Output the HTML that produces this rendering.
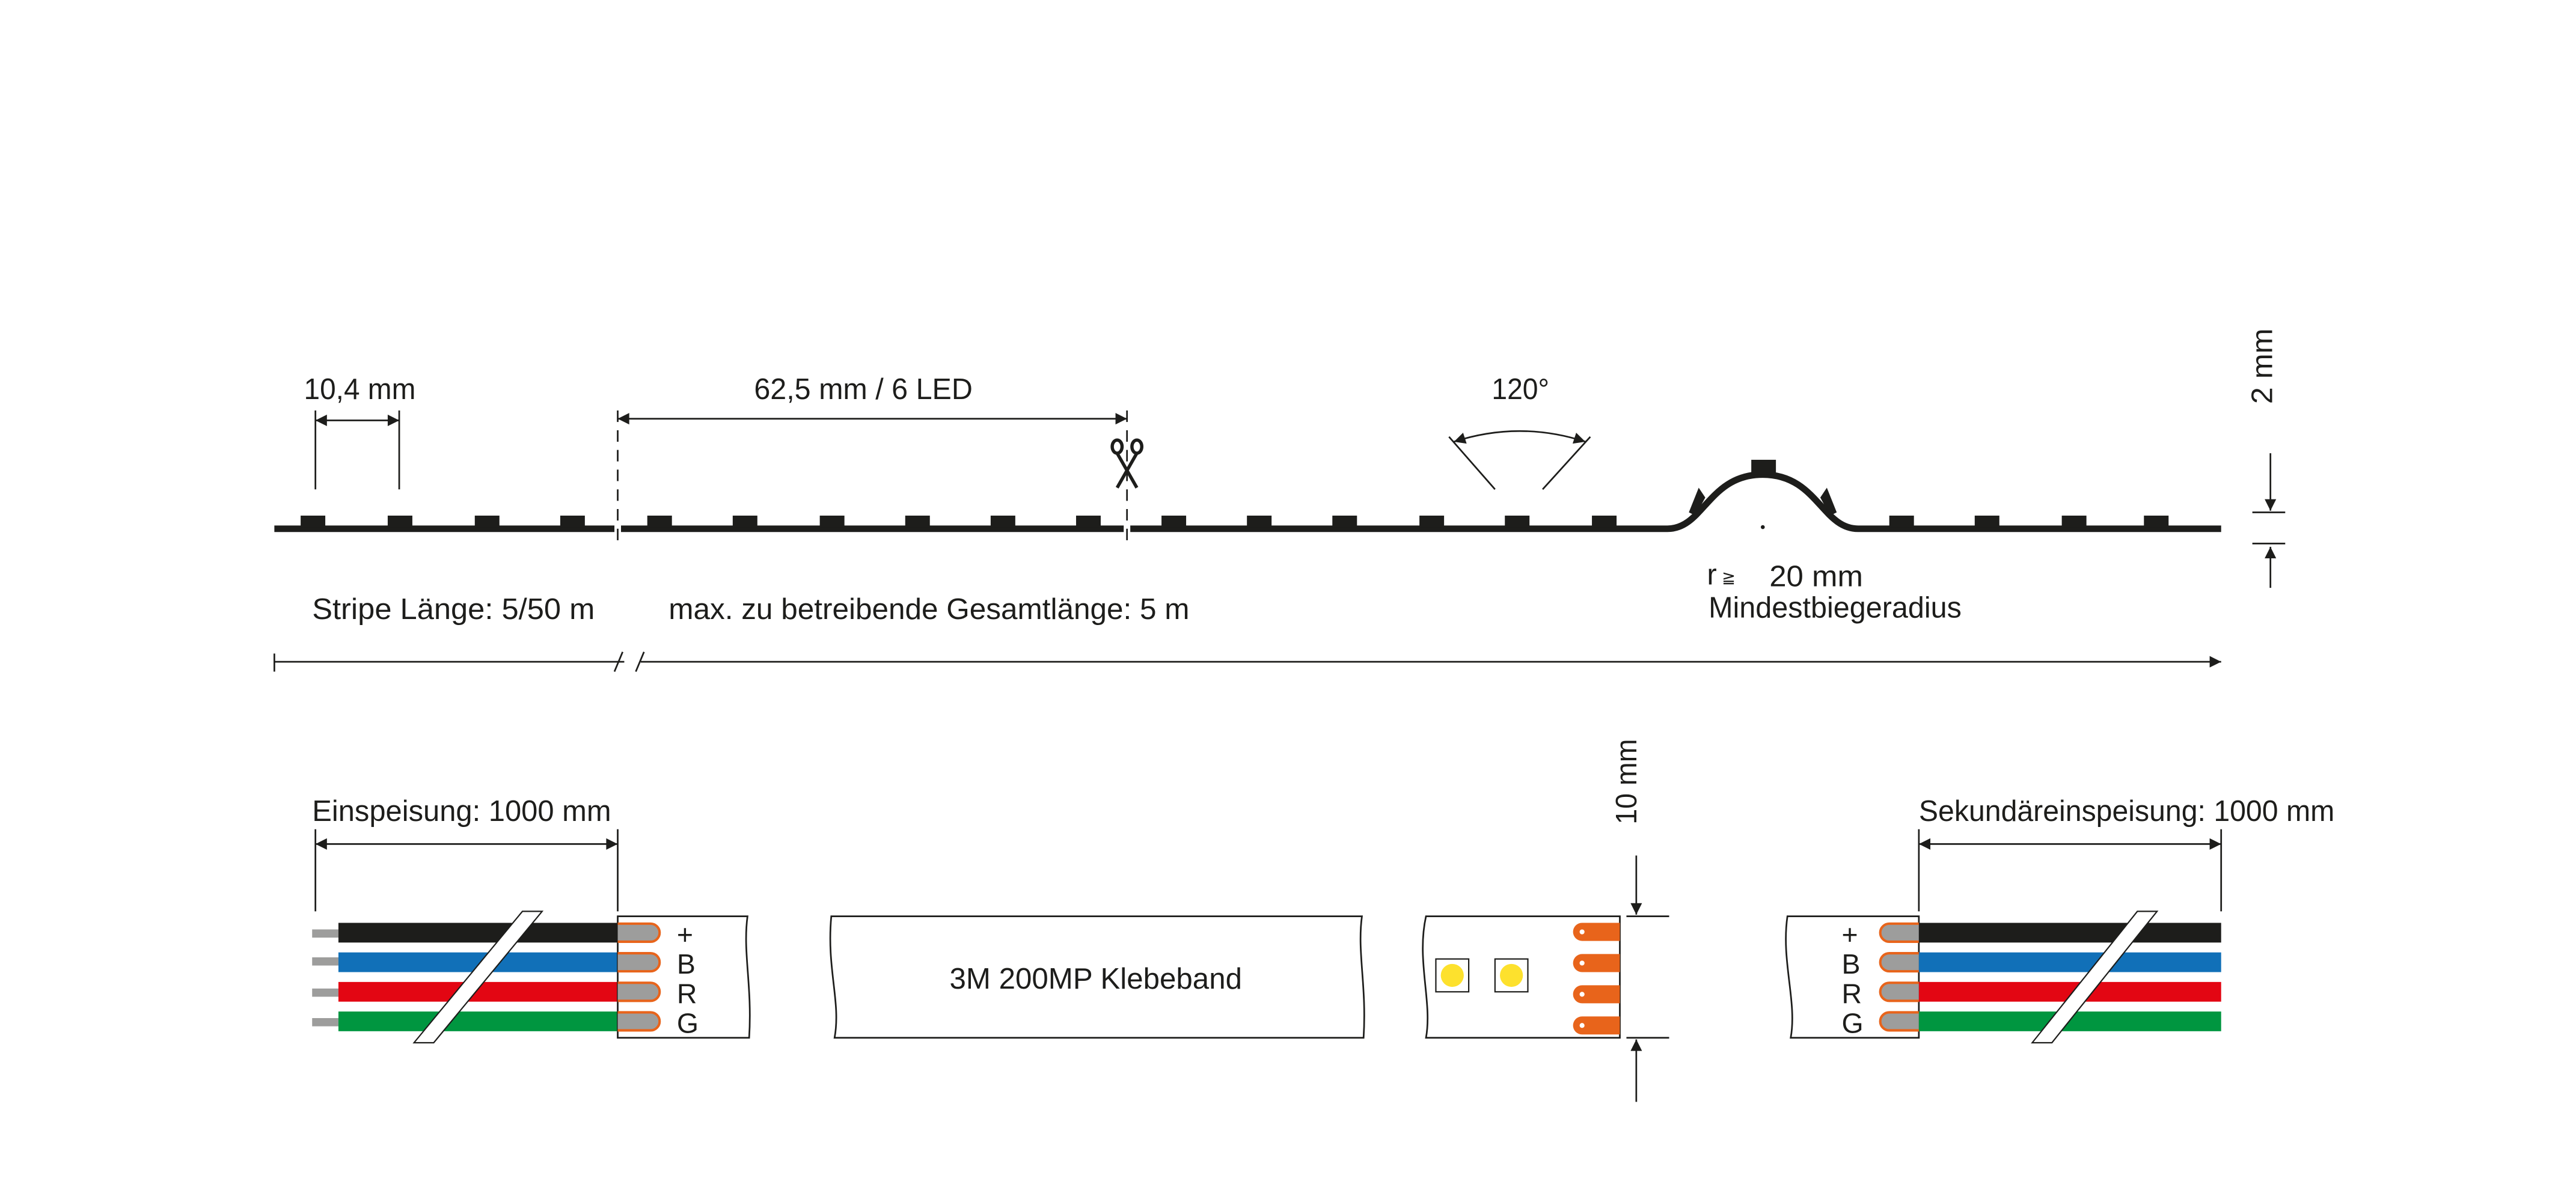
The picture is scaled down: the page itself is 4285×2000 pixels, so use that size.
<!DOCTYPE html>
<html><head><meta charset="utf-8"><style>
html,body{margin:0;padding:0;background:#fff;}
svg{display:block;}
text{font-family:"Liberation Sans Narrow","Liberation Sans",sans-serif;fill:#1d1d1b;}
</style></head><body>
<svg width="4285" height="2000" viewBox="0 0 1568 732" preserveAspectRatio="none" xmlns="http://www.w3.org/2000/svg">
<defs>
<marker id="ah" viewBox="0 0 10 10" refX="10" refY="5" markerWidth="9" markerHeight="7" markerUnits="userSpaceOnUse" orient="auto-start-reverse"><path d="M0,0 L10,5 L0,10 z" fill="#1d1d1b"/></marker>
</defs>
<g stroke="#1d1d1b" fill="none">
<path d="M167,322 H1015 C1037,322 1040,289 1073,289 C1106,289 1109,322 1131,322 H1352" stroke-width="4"/>
</g>
<g fill="#1d1d1b">
<rect x="183" y="314" width="15" height="7"/><rect x="236" y="314" width="15" height="7"/><rect x="289" y="314" width="15" height="7"/><rect x="341" y="314" width="15" height="7"/>
<rect x="394" y="314" width="15" height="7"/><rect x="446" y="314" width="15" height="7"/><rect x="499" y="314" width="15" height="7"/><rect x="551" y="314" width="15" height="7"/><rect x="603" y="314" width="15" height="7"/><rect x="655" y="314" width="15" height="7"/>
<rect x="707" y="314" width="15" height="7"/><rect x="759" y="314" width="15" height="7"/><rect x="811" y="314" width="15" height="7"/><rect x="864" y="314" width="15" height="7"/><rect x="916" y="314" width="15" height="7"/><rect x="969" y="314" width="15" height="7"/>
<rect x="1150" y="314" width="15" height="7"/><rect x="1202" y="314" width="15" height="7"/><rect x="1255" y="314" width="15" height="7"/><rect x="1305" y="314" width="15" height="7"/>
<rect x="1066" y="280" width="15" height="9"/>
<path d="M1028,312 L1034,297 L1038,303 L1032,314 z"/>
<path d="M1118,312 L1112,297 L1108,303 L1114,314 z"/>
<circle cx="1073" cy="321" r="1.2"/>
</g>
<rect x="374" y="315" width="4" height="10" fill="#fff"/>
<rect x="684" y="315" width="4" height="10" fill="#fff"/>
<g stroke="#1d1d1b" stroke-width="1" fill="none">
<line x1="376" y1="250" x2="376" y2="332" stroke-dasharray="7,5"/>
<line x1="686" y1="250" x2="686" y2="332" stroke-dasharray="7,5"/>
<line x1="192" y1="250" x2="192" y2="298"/><line x1="243" y1="250" x2="243" y2="298"/>
<line x1="192" y1="256" x2="243" y2="256" marker-start="url(#ah)" marker-end="url(#ah)"/>
<line x1="376" y1="255" x2="686" y2="255" marker-start="url(#ah)" marker-end="url(#ah)"/>
<line x1="882" y1="266" x2="910" y2="298"/><line x1="968" y1="266" x2="939" y2="298"/>
<path d="M885,269 Q925,256 965,269" marker-start="url(#ah)" marker-end="url(#ah)"/>
<line x1="1382" y1="276" x2="1382" y2="311" marker-end="url(#ah)"/>
<line x1="1382" y1="358" x2="1382" y2="333" marker-end="url(#ah)"/>
<line x1="1371" y1="312" x2="1391" y2="312"/><line x1="1371" y1="331" x2="1391" y2="331"/>
<line x1="167" y1="398" x2="167" y2="409"/>
<line x1="167" y1="403" x2="380" y2="403"/>
<line x1="390" y1="403" x2="1352" y2="403" marker-end="url(#ah)"/>
<line x1="374" y1="409" x2="379" y2="397"/><line x1="387" y1="409" x2="392" y2="397"/>
</g>
<g stroke="#1d1d1b" stroke-width="2" fill="none">
<ellipse cx="680" cy="272" rx="3" ry="4"/><ellipse cx="692" cy="272" rx="3" ry="4"/>
<path d="M680,276 L692,297 M692,276 L680,297"/>
</g>
<g font-size="18">
<text x="185" y="243" textLength="68" lengthAdjust="spacingAndGlyphs">10,4 mm</text>
<text x="459" y="243" textLength="133" lengthAdjust="spacingAndGlyphs">62,5 mm / 6 LED</text>
<text x="908" y="243" textLength="35" lengthAdjust="spacingAndGlyphs">120°</text>
<text x="190" y="377" textLength="172" lengthAdjust="spacingAndGlyphs">Stripe Länge:  5/50 m</text>
<text x="407" y="377" textLength="317" lengthAdjust="spacingAndGlyphs">max. zu betreibende Gesamtlänge:  5 m</text>
<text x="1039" y="356">r</text>
<text x="1077" y="357" textLength="57" lengthAdjust="spacingAndGlyphs">20 mm</text>
<text x="1040" y="376" textLength="154" lengthAdjust="spacingAndGlyphs">Mindestbiegeradius</text>
<text transform="translate(1383,246) rotate(-90)" textLength="46" lengthAdjust="spacingAndGlyphs">2 mm</text>
<text transform="translate(996,502) rotate(-90)" textLength="52" lengthAdjust="spacingAndGlyphs">10 mm</text>
<text x="190" y="500" textLength="182" lengthAdjust="spacingAndGlyphs">Einspeisung: 1000 mm</text>
<text x="1168" y="500" textLength="253" lengthAdjust="spacingAndGlyphs">Sekundäreinspeisung: 1000 mm</text>
</g>
<text x="1048" y="355" font-size="10">≧</text>

<g stroke="#1d1d1b" stroke-width="1" fill="none">
<line x1="192" y1="505" x2="192" y2="555"/><line x1="376" y1="505" x2="376" y2="555"/>
<line x1="192" y1="514" x2="376" y2="514" marker-start="url(#ah)" marker-end="url(#ah)"/>
<line x1="1168" y1="505" x2="1168" y2="555"/><line x1="1352" y1="505" x2="1352" y2="555"/>
<line x1="1168" y1="514" x2="1352" y2="514" marker-start="url(#ah)" marker-end="url(#ah)"/>
</g>

<g fill="#9d9d9c"><rect x="190" y="566" width="16" height="5"/><rect x="190" y="583" width="16" height="5"/><rect x="190" y="602" width="16" height="5"/><rect x="190" y="620" width="16" height="5"/></g>
<rect x="206" y="562" width="170" height="12" fill="#1d1d1b"/>
<rect x="206" y="580" width="170" height="12" fill="#1170b8"/>
<rect x="206" y="598" width="170" height="12" fill="#e30613"/>
<rect x="206" y="616" width="170" height="12" fill="#009640"/>
<polygon points="252,635 264,635 330,555 318,555" fill="#fff" stroke="#1d1d1b" stroke-width="0.8"/>
<path d="M376,558 H455 C452,580 458,600 456,632 H376 Z" fill="#fff" stroke="#1d1d1b" stroke-width="1"/>
<g fill="#9d9d9c" stroke="#e8641b" stroke-width="1.5">
<path d="M376,562.5 H396 A5.5,5.5 0 0 1 396,573.5 H376"/>
<path d="M376,580.5 H396 A5.5,5.5 0 0 1 396,591.5 H376"/>
<path d="M376,598.5 H396 A5.5,5.5 0 0 1 396,609.5 H376"/>
<path d="M376,616.5 H396 A5.5,5.5 0 0 1 396,627.5 H376"/>
</g>
<g font-size="17"><text x="412" y="575">+</text><text x="412" y="593">B</text><text x="412" y="611">R</text><text x="412" y="629">G</text></g>

<path d="M506,558 H829 C826,580 832,600 830,632 H508 C512,610 503,590 506,558 Z" fill="#fff" stroke="#1d1d1b" stroke-width="1"/>
<text x="578" y="602" font-size="18" textLength="178" lengthAdjust="spacingAndGlyphs">3M 200MP Klebeband</text>

<path d="M868,558 H986 V632 H868 C872,610 862,585 868,558 Z" fill="#fff" stroke="#1d1d1b" stroke-width="1"/>
<rect x="874" y="584" width="20" height="20" fill="#fff" stroke="#1d1d1b" stroke-width="0.8"/>
<rect x="910" y="584" width="20" height="20" fill="#fff" stroke="#1d1d1b" stroke-width="0.8"/>
<circle cx="884" cy="594" r="7" fill="#fde12d"/><circle cx="920" cy="594" r="7" fill="#fde12d"/>
<g fill="#e8641b">
<path d="M986,562 H963 A5.5,5.5 0 0 0 963,573 H986 Z"/>
<path d="M986,581 H963 A5.5,5.5 0 0 0 963,592 H986 Z"/>
<path d="M986,600 H963 A5.5,5.5 0 0 0 963,611 H986 Z"/>
<path d="M986,619 H963 A5.5,5.5 0 0 0 963,630 H986 Z"/>
</g>
<g fill="#fff"><circle cx="963" cy="567.5" r="1.5"/><circle cx="963" cy="586.5" r="1.5"/><circle cx="963" cy="605.5" r="1.5"/><circle cx="963" cy="624.5" r="1.5"/></g>
<g stroke="#1d1d1b" stroke-width="1" fill="none">
<line x1="990" y1="558" x2="1016" y2="558"/><line x1="990" y1="632" x2="1016" y2="632"/>
<line x1="996" y1="521" x2="996" y2="557" marker-end="url(#ah)"/>
<line x1="996" y1="671" x2="996" y2="633" marker-end="url(#ah)"/>
</g>

<path d="M1088,558 H1168 V632 H1090 C1094,610 1084,585 1088,558 Z" fill="#fff" stroke="#1d1d1b" stroke-width="1"/>
<g fill="#9d9d9c" stroke="#e8641b" stroke-width="1.5">
<path d="M1168,562.5 H1150 A5.5,5.5 0 0 0 1150,573.5 H1168"/>
<path d="M1168,580.5 H1150 A5.5,5.5 0 0 0 1150,591.5 H1168"/>
<path d="M1168,598.5 H1150 A5.5,5.5 0 0 0 1150,609.5 H1168"/>
<path d="M1168,616.5 H1150 A5.5,5.5 0 0 0 1150,627.5 H1168"/>
</g>
<g font-size="17"><text x="1121" y="575">+</text><text x="1121" y="593">B</text><text x="1121" y="611">R</text><text x="1121" y="629">G</text></g>
<rect x="1168" y="562" width="184" height="12" fill="#1d1d1b"/>
<rect x="1168" y="580" width="184" height="12" fill="#1170b8"/>
<rect x="1168" y="598" width="184" height="12" fill="#e30613"/>
<rect x="1168" y="616" width="184" height="12" fill="#009640"/>
<polygon points="1237,635 1249,635 1313,555 1301,555" fill="#fff" stroke="#1d1d1b" stroke-width="0.8"/>
</svg>
</body></html>
